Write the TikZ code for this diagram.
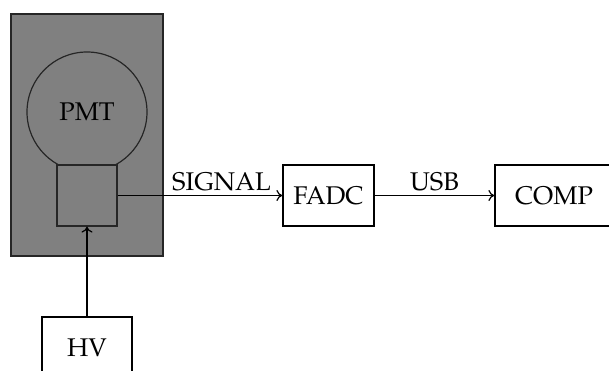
\documentclass[tikz,border=0pt]{standalone}
\usepackage[T1]{fontenc}
\usepackage{mathpazo}
\usetikzlibrary{arrows.meta}
\begin{document}
\begin{tikzpicture}[x=1pt,y=-1pt,
  font=\fontsize{25.6pt}{30pt}\selectfont,
  line width=1.2pt,
  box/.style={draw=black, fill=white, rectangle, inner sep=0pt},
  grayshape/.style={draw=black!85, fill=gray},
  conn/.style={-{To[length=6pt,width=11pt]}, line width=1.2pt}]
\useasboundingbox (0,0) rectangle (609,371);
\node (case) [grayshape, rectangle, minimum width=152pt, minimum height=242pt, inner sep=0pt] at (87,135) {};
\node (pmt) [grayshape, circle, minimum size=120pt, inner sep=0pt] at (87,112) {PMT};
\node (base) [grayshape, rectangle, minimum width=60pt, minimum height=61pt, inner sep=0pt] at (87,195.5) {};
\node (fadc) [box, minimum width=91pt, minimum height=61pt] at (328.5,195.5) {FADC};
\node (comp) [box, minimum width=118pt, minimum height=61pt] at (554,195.5) {COMP};
\node (hv) [box, minimum width=90pt, minimum height=61pt] at (87,347.5) {HV};
\draw[conn] (base.east) -- node[pos=0.63, above, inner sep=4pt] (siglab) {SIGNAL} (fadc.west);
\draw[conn] (fadc.east) -- node[midway, above, inner sep=4pt] (usblab) {USB} (comp.west);
\draw[conn] (hv.north) -- (base.south);
\end{tikzpicture}
\end{document}
